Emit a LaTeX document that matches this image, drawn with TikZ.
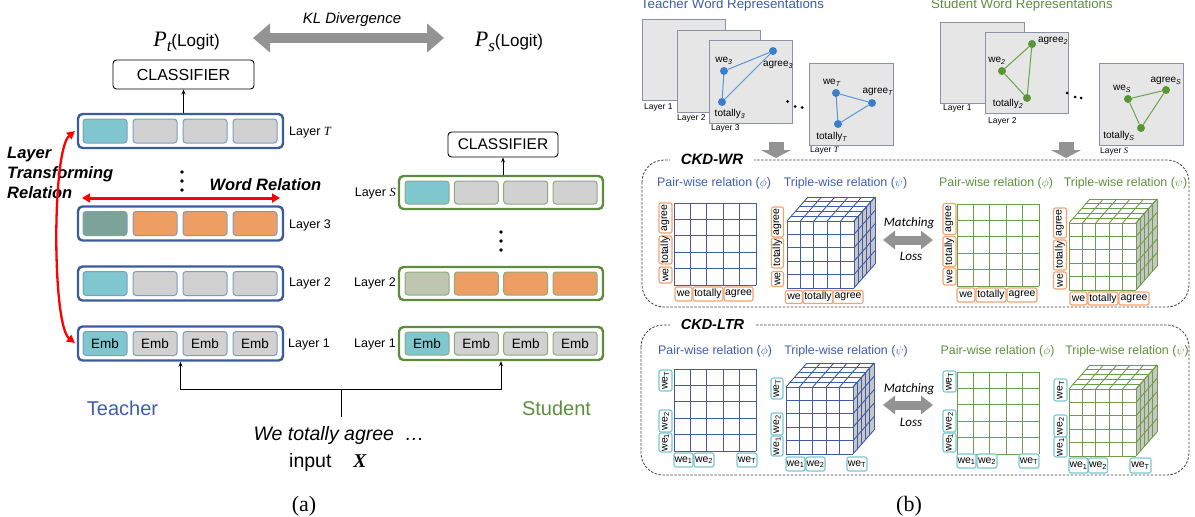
\documentclass[tikz,border=0pt]{standalone}
\usepackage{fontspec}
\setmainfont{Liberation Sans}
\newfontfamily\tnr{Liberation Serif}
\newfontfamily\carl{Carlito}
\usetikzlibrary{arrows.meta}
\newcommand\fsz[2]{\fontsize{#1}{#2}\selectfont}
\newcommand\wesub[1]{we\textsubscript{#1}}
\newcommand\sit[1]{{\tnr\itshape #1}}
\definecolor{tblue}{HTML}{3A5C9E}
\definecolor{tcellb}{HTML}{7C9CC4}
\definecolor{sgreen}{HTML}{5E8C3E}
\definecolor{scellb}{HTML}{8FAA7C}
\definecolor{cyanf}{HTML}{7FC6CE}
\definecolor{greyf}{HTML}{D1D1D1}
\definecolor{orangef}{HTML}{EF9E63}
\definecolor{tealf}{HTML}{7BA398}
\definecolor{sgf}{HTML}{BEC6B2}
\definecolor{arrowgrey}{HTML}{939393}
\definecolor{txtblue}{HTML}{3F5DA8}
\definecolor{txtgreen}{HTML}{5E8F3E}
\definecolor{gridblue}{HTML}{3E5CA8}
\definecolor{gridgreen}{HTML}{6E9D48}
\definecolor{labor}{HTML}{F0A470}
\definecolor{labcy}{HTML}{78C8D0}
\definecolor{sqfill}{HTML}{E6E6E6}
\definecolor{sqdraw}{HTML}{8C92A4}
\definecolor{nodeblue}{HTML}{3B7FCB}
\definecolor{edgeblue}{HTML}{5A96D6}
\definecolor{nodegreen}{HTML}{5A9537}
\definecolor{edgegreen}{HTML}{6FA04C}
\definecolor{cubeside}{HTML}{C6C6C6}
\definecolor{redarr}{HTML}{FF0000}
\newcounter{lb}
\newcommand\vlab[6]{\stepcounter{lb}\node[labbox=#1, rotate=90, minimum width=#4pt, minimum height=#5pt] (lb\thelb) at (#2,#3) {#6};}
\newcommand\hlab[6]{\stepcounter{lb}\node[labbox=#1, minimum width=#4pt, minimum height=#5pt] (lb\thelb) at (#2,#3) {#6};}
\newcommand\pairgrid[3]{%
  \fill[white] (#1,#2) rectangle (#1+82,#2+82);
  \foreach \i in {0,...,5}{%
    \draw[#3, gridl] ({#1+\i*16.4},#2) -- ({#1+\i*16.4},#2+82);
    \draw[#3, gridl] (#1,{#2+\i*16.4}) -- (#1+82,{#2+\i*16.4});
  }}
\newcommand\relcube[3]{%
  \fill[cubeside] (#1+67,#2) -- (#1+88,#2-24) -- (#1+88,#2+43) -- (#1+67,#2+67) -- cycle;
  \fill[white] (#1,#2) -- (#1+21,#2-24) -- (#1+88,#2-24) -- (#1+67,#2) -- cycle;
  \fill[white] (#1,#2) rectangle (#1+67,#2+67);
  \foreach \i in {0,...,5}{%
    \draw[#3,gridl] ({#1+\i*13.4},#2) -- ({#1+\i*13.4},#2+67);
    \draw[#3,gridl] (#1,{#2+\i*13.4}) -- (#1+67,{#2+\i*13.4});
    \draw[#3,gridl] ({#1+\i*13.4},#2) -- ({#1+\i*13.4+21},#2-24);
    \draw[#3,gridl] ({#1+\i*4.2},{#2-\i*4.8}) -- ({#1+67+\i*4.2},{#2-\i*4.8});
    \draw[#3,gridl] ({#1+67+\i*4.2},{#2-\i*4.8}) -- ({#1+67+\i*4.2},{#2+67-\i*4.8});
    \draw[#3,gridl] (#1+67,{#2+\i*13.4}) -- (#1+88,{#2+\i*13.4-24});
  }}
\begin{document}
\begin{tikzpicture}[x=1pt,y=-1pt,
  tbox/.style={draw=tblue, line width=2.4pt, rounded corners=4.5pt, minimum width=205pt, minimum height=34pt, inner sep=0pt},
  sbox/.style={draw=sgreen, line width=2.4pt, rounded corners=4.5pt, minimum width=204pt, minimum height=33pt, inner sep=0pt},
  tcell/.style={draw=tcellb, line width=1pt, rounded corners=3pt, minimum width=44pt, minimum height=24pt, inner sep=0pt, font=\fsz{13.5}{15}},
  scell/.style={draw=scellb, line width=1pt, rounded corners=3pt, minimum width=44pt, minimum height=23pt, inner sep=0pt, font=\fsz{13.5}{15}},
  laylab/.style={font=\fsz{12.5}{14}, inner sep=0pt},
  cls/.style={draw=black, line width=0.9pt, rounded corners=3.5pt, inner sep=0pt},
  thinarrow/.style={line width=0.9pt, -{Stealth[length=5pt,width=4pt]}},
  sq/.style={draw=sqdraw, fill=sqfill, line width=0.8pt, inner sep=0pt, outer sep=0pt, anchor=north west},
  gnode/.style={circle, fill=#1, inner sep=0pt, minimum size=8pt},
  glab/.style={font=\fsz{10}{11}, inner sep=0pt},
  sqlab/.style={font=\fsz{8.5}{10}, inner sep=0pt, anchor=west},
  labbox/.style={draw=#1, line width=1.1pt, rounded corners=2pt, fill=white, inner sep=0pt, font=\fsz{10.5}{12}},
  gridl/.style={line width=0.9pt},
  dbox/.style={draw=black!75, line width=0.8pt, dash pattern=on 2.5pt off 1.5pt, rounded corners=22pt},
  relt/.style={font=\fsz{12.4}{14}, inner sep=0pt, anchor=base},
  bigarr/.style={line width=#1, arrowgrey},
]
\useasboundingbox (0,0) rectangle (1195,517);

% ================= (a) =================
\node[font=\fsz{15}{17}\itshape, anchor=base, inner sep=0pt] (kl) at (352,23) {KL Divergence};
\coordinate (klL) at (253,38); \coordinate (klR) at (444,38);
\draw[bigarr=10pt, {Triangle[width=28pt,length=17pt]}-{Triangle[width=28pt,length=17pt]}] (klL) -- (klR);
\node[font=\fsz{17}{20}, anchor=base, inner sep=0pt] (Pt) at (186.5,46.5) {{\tnr\itshape\fsz{22}{24}P\raisebox{-4.5pt}{\fsz{17}{18}t}}(Logit)};
\node[font=\fsz{17}{20}, anchor=base, inner sep=0pt] (Ps) at (509,46.5) {{\tnr\itshape\fsz{22}{24}P\raisebox{-4.5pt}{\fsz{17}{18}s}}(Logit)};

\node[cls, minimum width=141pt, minimum height=29pt, font=\fsz{16}{18}] (tcls) at (183.5,74.5) {CLASSIFIER};
\node[cls, minimum width=110pt, minimum height=25pt, font=\fsz{15.5}{17}] (scls) at (503,144.5) {CLASSIFIER};

\foreach \nm/\yy/\fa/\fb/\tx in {tLT/131/cyanf/greyf/{}, tL3/223.5/tealf/orangef/{}, tL2/283.5/cyanf/greyf/{}, tL1/343.5/cyanf/greyf/Emb}{
  \node[tbox] (\nm) at (180.5,\yy) {};
  \node[tcell, fill=\fa] (\nm c1) at (105,\yy) {\tx};
  \foreach \k in {2,3,4} \node[tcell, fill=\fb] (\nm c\k) at ({55+\k*50},\yy) {\tx};
}
\foreach \nm/\yy/\fa/\fb/\tx in {sLS/192.5/cyanf/greyf/{}, sL2/283.5/sgf/orangef/{}, sL1/343.5/cyanf/greyf/Emb}{
  \node[sbox] (\nm) at (501,\yy) {};
  \node[scell, fill=\fa] (\nm c1) at (427,\yy) {\tx};
  \foreach \k in {2,3,4} \node[scell, fill=\fb] (\nm c\k) at ({377.5+\k*49.4},\yy) {\tx};
}
\node[laylab, anchor=west] (tlabT) at (289,132) {Layer \sit{T}};
\node[laylab, anchor=west] (tlab3) at (289,225) {Layer 3};
\node[laylab, anchor=west] (tlab2) at (289,283.5) {Layer 2};
\node[laylab, anchor=west] (tlab1) at (288,344) {Layer 1};
\node[laylab, anchor=east] (slabS) at (396,193) {Layer \sit{S}};
\node[laylab, anchor=east] (slab2) at (396,283.5) {Layer 2};
\node[laylab, anchor=east] (slab1) at (396,344) {Layer 1};

\draw[thinarrow] (tcls.south |- tLT.north) -- (tcls.south);
\draw[thinarrow] (scls.south |- sLS.north) -- (scls.south);

\foreach \yy in {172,181,190} \fill (182,\yy) circle (1.8pt);
\foreach \yy in {232,241,250} \fill (501,\yy) circle (1.8pt);

\node[font=\fsz{16.5}{18}\bfseries\itshape, anchor=base, inner sep=0pt] (wrt) at (265.5,190.5) {Word Relation};
\coordinate (wrL) at (82,198); \coordinate (wrR) at (280,198);
\draw[redarr, line width=3pt, {Triangle[width=9pt,length=8pt]}-{Triangle[width=9pt,length=8pt]}] (wrL) -- (wrR);

\node[font=\fsz{16.5}{20}\bfseries\itshape, align=left, anchor=west, inner sep=0pt] (ltr) at (7,173) {Layer\\Transforming\\Relation};
\coordinate (arcT) at (75,131); \coordinate (arcB) at (75,343);
\draw[redarr, line width=2.3pt, {Triangle[width=8pt,length=8pt]}-{Triangle[width=8pt,length=8pt]}] (arcT) .. controls (52,150) and (52,325) .. (arcB);

\node[font=\fsz{20}{22}, text=txtblue, anchor=base, inner sep=0pt] (teach) at (122.5,415) {Teacher};
\node[font=\fsz{20}{22}, text=txtgreen, anchor=base, inner sep=0pt] (stud) at (556.5,415) {Student};
\node[font=\fsz{19.5}{22}\itshape, anchor=base, inner sep=0pt] (wta) at (339,440) {We totally agree\ \ …};
\node[font=\fsz{19.5}{22}, anchor=base west, inner sep=0pt] (inp) at (289,467) {input\hspace{22pt}{\tnr\bfseries\itshape X}};
\coordinate (stem) at (341,417); \coordinate (fork) at (341,389);
\draw[line width=0.9pt] (stem) -- (fork);
\draw[thinarrow] (fork) -| (tL1.south);
\draw[thinarrow] (fork) -| (sL1.south);
\node[font=\tnr\fsz{22}{24}, anchor=base, inner sep=0pt] (capa) at (304,511) {(a)};

% ================= (b) =================
\node[font=\fsz{13.3}{15}, text=txtblue, anchor=base, inner sep=0pt] (twr) at (732.5,8.5) {Teacher Word Representations};
\node[font=\fsz{13.3}{15}, text=txtgreen, anchor=base, inner sep=0pt] (swr) at (1022,8.5) {Student Word Representations};

\node[sq, minimum width=83pt, minimum height=81pt] (tq1) at (642,19) {};
\node[sq, minimum width=83pt, minimum height=82pt] (tq2) at (677,30) {};
\node[sq, minimum width=83pt, minimum height=83pt] (tq3) at (709,40) {};
\node[sq, minimum width=84pt, minimum height=82pt] (tqT) at (809,63) {};
\node[sq, minimum width=84pt, minimum height=81pt] (sq1) at (940,22) {};
\node[sq, minimum width=83pt, minimum height=81pt] (sq2) at (985,32) {};
\node[sq, minimum width=84pt, minimum height=82pt] (sqS) at (1099,63) {};
\node[sqlab] (tq1l) at (644,107) {Layer 1};
\node[sqlab] (tq2l) at (677,118) {Layer 2};
\node[sqlab] (tq3l) at (711,128) {Layer 3};
\node[sqlab] (tqTl) at (810,150) {Layer \sit{T}};
\node[sqlab] (sq1l) at (943,108) {Layer 1};
\node[sqlab] (sq2l) at (988,121) {Layer 2};
\node[sqlab] (sqSl) at (1100,151) {Layer \sit{S}};

% teacher graphs
\node[gnode=nodeblue] (w3) at (724,71) {};
\node[gnode=nodeblue] (a3) at (773,51) {};
\node[gnode=nodeblue] (t3) at (722,102) {};
\draw[edgeblue, line width=1pt] (w3) -- (a3) (w3) -- (t3) (t3) -- (a3);
\node[glab] (w3l) at (724,61) {we\textsubscript{\textit{3}}};
\node[glab] (a3l) at (778,65) {agree\textsubscript{\textit{3}}};
\node[glab] (t3l) at (730,114) {totally\textsubscript{\textit{3}}};
\node[gnode=nodeblue] (wT) at (836,93) {};
\node[gnode=nodeblue] (aT) at (872,103) {};
\node[gnode=nodeblue] (tT) at (838,124) {};
\draw[edgeblue, line width=1pt] (wT) -- (aT) (wT) -- (tT) (tT) -- (aT);
\node[glab] (wTl) at (832,83) {we\textsubscript{\textit{T}}};
\node[glab] (aTl) at (878,92) {agree\textsubscript{\textit{T}}};
\node[glab] (tTl) at (832,137) {totally\textsubscript{\textit{T}}};
% student graphs
\node[gnode=nodegreen] (w2) at (1002,71) {};
\node[gnode=nodegreen] (a2) at (1032,44) {};
\node[gnode=nodegreen] (t2) at (1027,98) {};
\draw[edgegreen, line width=1pt] (w2) -- (a2) (w2) -- (t2) (t2) -- (a2);
\node[glab] (w2l) at (997,61) {we\textsubscript{\textit{2}}};
\node[glab] (a2l) at (1053,41) {agree\textsubscript{\textit{2}}};
\node[glab] (t2l) at (1008,104) {totally\textsubscript{\textit{2}}};
\node[gnode=nodegreen] (wS) at (1128,99) {};
\node[gnode=nodegreen] (aS) at (1166,90) {};
\node[gnode=nodegreen] (tS) at (1141,128) {};
\draw[edgegreen, line width=1pt] (wS) -- (aS) (wS) -- (tS) (tS) -- (aS);
\node[glab] (wSl) at (1122,89) {we\textsubscript{\textit{S}}};
\node[glab] (aSl) at (1166,81) {agree\textsubscript{\textit{S}}};
\node[glab] (tSl) at (1119,136) {totally\textsubscript{\textit{S}}};

\foreach \xx/\yy in {787.5/101.5,795/106.5,802/107.5,1067/93,1075/97,1081/98} \fill (\xx,\yy) circle (1.5pt);

% dashed boxes
\draw[dbox] (642,160) rectangle (1189,307);
\draw[dbox] (641,325) rectangle (1189,475);
\node[fill=white, inner xsep=11pt, inner ysep=2pt, font=\fsz{15}{17}\bfseries\itshape] (ckdwr) at (712,159) {CKD-WR};
\node[fill=white, inner xsep=11pt, inner ysep=2pt, font=\fsz{14.5}{17}\bfseries\itshape] (ckdltr) at (712.5,325) {CKD-LTR};

\coordinate (tdA) at (776,142); \coordinate (tdB) at (776,158);
\draw[bigarr=15pt, -{Triangle[width=30pt,length=8pt]}] (tdA) -- (tdB);
\coordinate (sdA) at (1066,142); \coordinate (sdB) at (1066,158);
\draw[bigarr=15pt, -{Triangle[width=30pt,length=8pt]}] (sdA) -- (sdB);

% relation titles
\node[relt, text=txtblue] (wrtp) at (714,186) {Pair-wise relation ($\phi$)};
\node[relt, text=txtblue] (wrtt) at (845.5,186) {Triple-wise relation ($\psi$)};
\node[relt, text=txtgreen] (wrsp) at (996,186) {Pair-wise relation ($\phi$)};
\node[relt, text=txtgreen] (wrst) at (1125.5,186) {Triple-wise relation ($\psi$)};
\node[relt, text=txtblue] (lttp) at (715,354) {Pair-wise relation ($\phi$)};
\node[relt, text=txtblue] (lttt) at (846,354) {Triple-wise relation ($\psi$)};
\node[relt, text=txtgreen] (ltsp) at (997.5,354) {Pair-wise relation ($\phi$)};
\node[relt, text=txtgreen] (ltst) at (1127,354) {Triple-wise relation ($\psi$)};

% grids and cubes
\pairgrid{674}{203}{gridblue}
\pairgrid{957}{204}{gridgreen}
\pairgrid{674}{369}{gridblue}
\pairgrid{957}{372}{gridgreen}
\relcube{787}{221}{gridblue}
\relcube{1069}{223}{gridgreen}
\relcube{786}{387}{gridblue}
\relcube{1069}{389}{gridgreen}

% matching arrows
\coordinate (m1a) at (883,240); \coordinate (m1b) at (933,240);
\draw[bigarr=9pt, {Triangle[width=18pt,length=12pt]}-{Triangle[width=18pt,length=12pt]}] (m1a) -- (m1b);
\node[font=\carl\itshape\fsz{13}{15}, anchor=base, inner sep=0pt] (mt1) at (909,226.5) {Matching};
\node[font=\carl\itshape\fsz{13}{15}, anchor=base, inner sep=0pt] (ml1) at (911,260) {Loss};
\coordinate (m2a) at (883,405); \coordinate (m2b) at (933,405);
\draw[bigarr=9pt, {Triangle[width=18pt,length=12pt]}-{Triangle[width=18pt,length=12pt]}] (m2a) -- (m2b);
\node[font=\carl\itshape\fsz{13}{15}, anchor=base, inner sep=0pt] (mt2) at (909,392.5) {Matching};
\node[font=\carl\itshape\fsz{13}{15}, anchor=base, inner sep=0pt] (ml2) at (911,426) {Loss};

% WR labels
\vlab{labor}{665.5}{218}{30}{13}{agree}
\vlab{labor}{665.5}{250}{28}{13}{totally}
\vlab{labor}{665.5}{275}{16}{13}{we}
\hlab{labor}{683.5}{294}{17}{14}{we}
\hlab{labor}{708}{294}{30}{14}{totally}
\hlab{labor}{738.5}{294}{29}{14}{agree}
\vlab{labor}{777.5}{222}{30}{12}{agree}
\vlab{labor}{777.5}{253}{30}{12}{totally}
\vlab{labor}{777.5}{279}{15}{12}{we}
\hlab{labor}{794}{297}{17}{13}{we}
\hlab{labor}{818}{297}{30}{13}{totally}
\hlab{labor}{848}{297}{30}{13}{agree}
\vlab{labor}{949.5}{219}{31}{13}{agree}
\vlab{labor}{949.5}{251.5}{30}{13}{totally}
\vlab{labor}{949.5}{276.5}{17}{13}{we}
\hlab{labor}{966}{295}{18}{14}{we}
\hlab{labor}{991}{295}{30}{14}{totally}
\hlab{labor}{1022}{295}{30}{14}{agree}
\vlab{labor}{1060}{223}{30}{13}{agree}
\vlab{labor}{1060}{255}{30}{13}{totally}
\vlab{labor}{1060}{280.5}{17}{13}{we}
\hlab{labor}{1078.5}{298.5}{17}{13}{we}
\hlab{labor}{1103}{298.5}{30}{13}{totally}
\hlab{labor}{1134}{298.5}{30}{13}{agree}
% LTR labels
\vlab{labcy}{665.5}{380.5}{21}{13}{\wesub{T}}
\vlab{labcy}{665.5}{421}{22}{13}{\wesub{2}}
\vlab{labcy}{665.5}{442.5}{19}{13}{\wesub{1}}
\hlab{labcy}{683.5}{460}{19}{14}{\wesub{1}}
\hlab{labcy}{704}{460}{20}{14}{\wesub{2}}
\hlab{labcy}{747}{460}{20}{14}{\wesub{T}}
\vlab{labcy}{777}{388.5}{21}{12}{\wesub{T}}
\vlab{labcy}{777}{424}{22}{12}{\wesub{2}}
\vlab{labcy}{777}{446}{20}{12}{\wesub{1}}
\hlab{labcy}{795.5}{464}{19}{14}{\wesub{1}}
\hlab{labcy}{815.5}{464}{19}{14}{\wesub{2}}
\hlab{labcy}{857}{464}{20}{14}{\wesub{T}}
\vlab{labcy}{949.5}{381.5}{21}{13}{\wesub{T}}
\vlab{labcy}{949.5}{421}{22}{13}{\wesub{2}}
\vlab{labcy}{949.5}{442.5}{19}{13}{\wesub{1}}
\hlab{labcy}{966.5}{461}{19}{14}{\wesub{1}}
\hlab{labcy}{987}{461}{20}{14}{\wesub{2}}
\hlab{labcy}{1029}{461}{20}{14}{\wesub{T}}
\vlab{labcy}{1060.5}{390}{22}{13}{\wesub{T}}
\vlab{labcy}{1060.5}{426}{22}{13}{\wesub{2}}
\vlab{labcy}{1060.5}{447}{20}{13}{\wesub{1}}
\hlab{labcy}{1078.5}{465.5}{19}{15}{\wesub{1}}
\hlab{labcy}{1098}{465.5}{19}{15}{\wesub{2}}
\hlab{labcy}{1140.5}{465.5}{21}{15}{\wesub{T}}

\node[font=\tnr\fsz{22}{24}, anchor=base, inner sep=0pt] (capb) at (909,511) {(b)};
\end{tikzpicture}
\end{document}
